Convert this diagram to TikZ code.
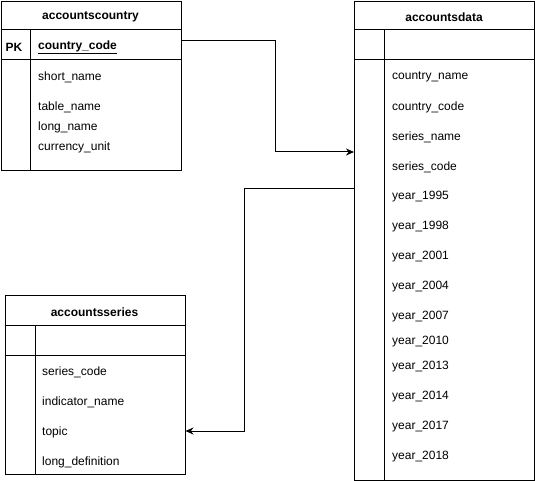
\documentclass[tikz,border=0pt]{standalone}
\usepackage{fontspec}
\setmainfont{Liberation Sans}
\usetikzlibrary{arrows.meta}
\tikzset{
  tbl/.style={draw, line width=1pt, anchor=north west, inner sep=0pt},
  fld/.style={anchor=west, inner sep=0pt, yshift=-2pt, font=\fontsize{12}{14}\selectfont},
  ttl/.style={inner sep=0pt, yshift=-2pt, font=\fontsize{12}{14}\selectfont\bfseries},
  rel/.style={line width=1pt, -{Stealth[length=8pt,width=7pt]}}
}
\begin{document}
\begin{tikzpicture}[x=1pt,y=-1pt]
  \useasboundingbox (0,0) rectangle (535,481);
  % tables
  \node[tbl, minimum width=180pt, minimum height=169pt] (country) at (0.5,1) {};
  \node[tbl, minimum width=180pt, minimum height=479pt] (data) at (354,1) {};
  \node[tbl, minimum width=180pt, minimum height=179pt] (series) at (4.5,295) {};
  \begin{scope}[line width=1pt]
    \draw (country.west |- 0,30) -- (country.east |- 0,30);
    \draw (country.west |- 0,60) -- (country.east |- 0,60);
    \draw (30,30) -- (30,170);
    \draw (data.west |- 0,30) -- (data.east |- 0,30);
    \draw (data.west |- 0,60) -- (data.east |- 0,60);
    \draw (384,30) -- (384,480);
    \draw (series.west |- 0,325) -- (series.east |- 0,325);
    \draw (series.west |- 0,355) -- (series.east |- 0,355);
    \draw (35,325) -- (35,474);
  \end{scope}
  % accountscountry
  \node[ttl] (countrytitle) at (90.5,15) {accountscountry};
  \node[ttl] (pk) at (14,45) {PK};
  \node[fld, font=\fontsize{12}{14}\selectfont\bfseries] (pkfield) at (38,45) {\underline{country\_code}};
  \node[fld] (c1) at (38,75) {short\_name};
  \node[fld] (c2) at (38,105) {table\_name};
  \node[fld] (c3) at (38,125) {long\_name};
  \node[fld] (c4) at (38,145) {currency\_unit};
  % accountsdata
  \node[ttl] (datatitle) at (444,15) {accountsdata};
  \foreach \name/\y [count=\i] in {country\_name/75, country\_code/105,
      series\_name/135, series\_code/165, year\_1995/195, year\_1998/225,
      year\_2001/255, year\_2004/285, year\_2007/315, year\_2010/340,
      year\_2013/365, year\_2014/395, year\_2017/425, year\_2018/455}
    \node[fld] (d\i) at (392,\y) {\name};
  % accountsseries
  \node[ttl] (seriestitle) at (94.5,310) {accountsseries};
  \node[fld] (s1) at (42,370) {series\_code};
  \node[fld] (s2) at (42,400) {indicator\_name};
  \node[fld] (s3) at (42,430) {topic};
  \node[fld] (s4) at (42,460) {long\_definition};
  % relations
  \coordinate (bend1) at (275,41);
  \coordinate (bend2) at (244,189);
  \draw[rel] (country.east |- bend1) -- (bend1) |- (data.west |- 0,152);
  \draw[rel] (data.west |- bend2) -- (bend2) |- (series.east |- 0,431);
\end{tikzpicture}
\end{document}
